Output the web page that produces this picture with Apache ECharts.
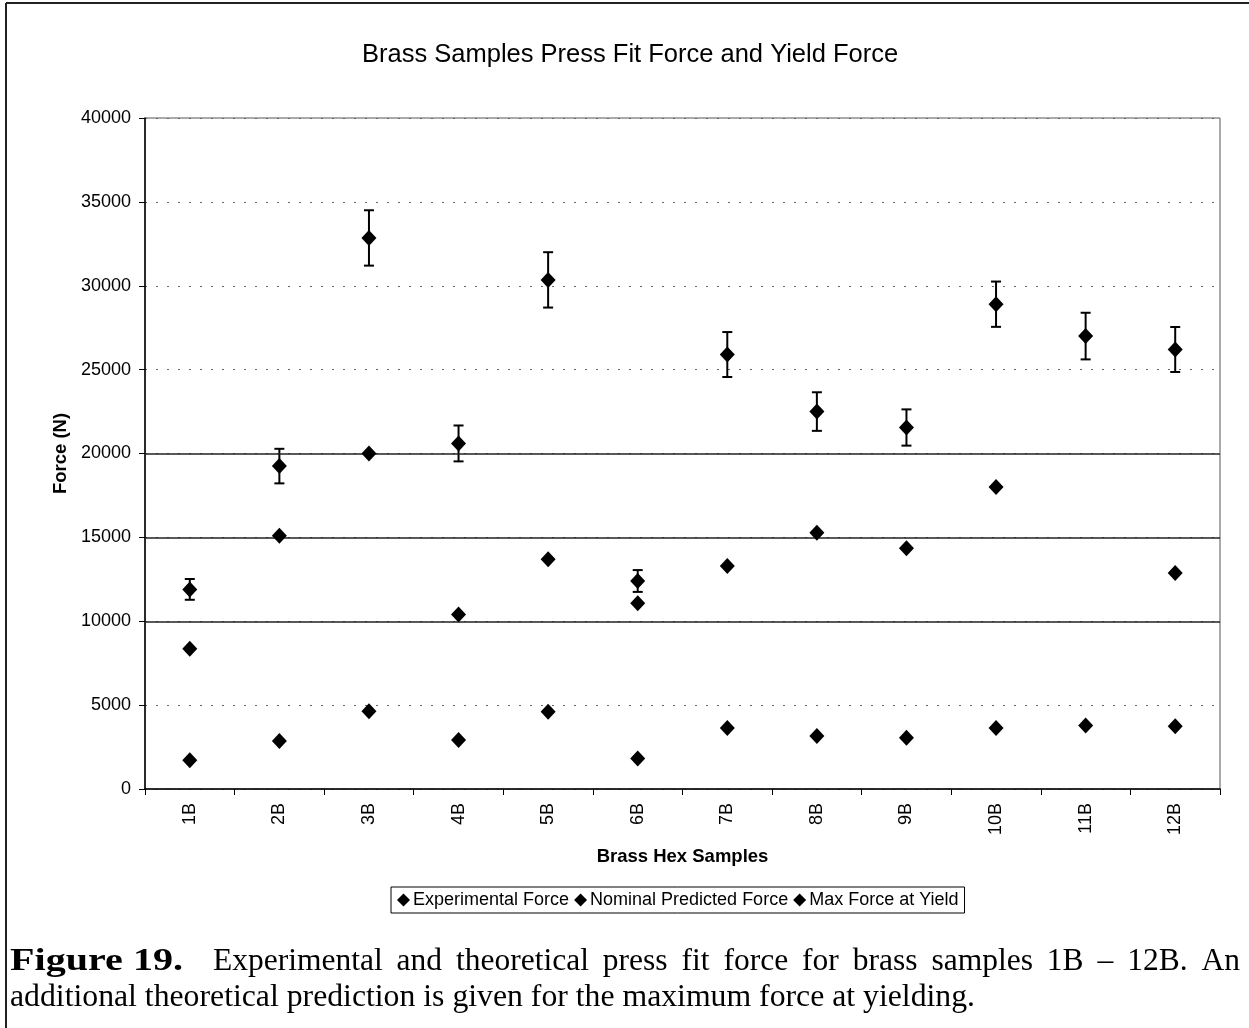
<!DOCTYPE html>
<html>
<head>
<meta charset="utf-8">
<script src="https://cdn.jsdelivr.net/npm/echarts@6/dist/echarts.min.js"></script>
<style>
html,body{margin:0;padding:0;background:#fff;}
#chart{width:1249px;height:1028px;}
</style>
</head>
<body>
<div id="chart"></div>
<script>
var categories = ['1B','2B','3B','4B','5B','6B','7B','8B','9B','10B','11B','12B'];
var experimental = [11900, 19250, 32850, 20600, 30350, 12400, 25900, 22500, 21550, 28900, 27000, 26200];
var expError = [620, 1030, 1650, 1070, 1650, 650, 1340, 1150, 1080, 1350, 1390, 1340];
var nominal = [8360, 15100, 20000, 10400, 13700, 11080, 13300, 15270, 14350, 18000, null, 12880];
var yieldForce = [1720, 2860, 4640, 2920, 4610, 1820, 3640, 3160, 3050, 3640, 3780, 3740];
var solidGrid = [10000, 15000, 20000];
var seriesNames = ['Experimental Force', 'Nominal Predicted Force', 'Max Force at Yield'];
var titleText = 'Brass Samples Press Fit Force and Yield Force';
var xAxisName = 'Brass Hex Samples';
var yAxisName = 'Force (N)';
var captionLabel = 'Figure 19.';
var captionLine1 = 'Experimental and theoretical press fit force for brass samples 1B \u2013 12B. An';
var captionLine2 = 'additional theoretical prediction is given for the maximum force at yielding.';

var chart = echarts.init(document.getElementById('chart'), null, {renderer: 'canvas'});

var cv = document.createElement('canvas').getContext('2d');
var capFont = '31.5px "Liberation Serif"';
var boldFont = 'bold 31.5px "Liberation Serif"';
cv.font = boldFont;
var labelScale = 173 / cv.measureText(captionLabel).width;
cv.font = capFont;
var line2Scale = 965 / cv.measureText(captionLine2).width;
var words = captionLine1.split(' ');
var startX = 213, endX = 1240;
var total = 0;
words.forEach(function (w) { total += cv.measureText(w).width; });
var gap = (endX - startX - total) / (words.length - 1);
var capGraphics = [];
var cx = startX;
words.forEach(function (w) {
  capGraphics.push({type: 'text', x: cx, y: 962,
    style: {text: w, font: capFont, fill: '#000', textVerticalAlign: 'middle', textAlign: 'left'}});
  cx += cv.measureText(w).width + gap;
});

var diamond = 'diamond';
var option = {
  backgroundColor: '#fff',
  animation: false,
  title: {
    text: titleText, left: 357, top: 37,
    padding: 5,
    textStyle: {fontFamily: 'Liberation Sans', fontSize: 25.5, fontWeight: 'normal', color: '#000'}
  },
  legend: {
    left: 391, top: 887,
    data: seriesNames,
    icon: diamond,
    itemWidth: 13, itemHeight: 13, itemGap: 5,
    padding: [4, 6, 4, 6],
    borderColor: '#000', borderWidth: 1,
    textStyle: {fontFamily: 'Liberation Sans', fontSize: 18, color: '#000', padding: [0, 0, 0, -2]}
  },
  grid: {left: 145, right: 29, top: 118, bottom: 239, show: true, borderColor: '#555', borderWidth: 1},
  xAxis: {
    type: 'category', data: categories,
    name: xAxisName, nameLocation: 'middle', nameGap: 58,
    nameTextStyle: {fontFamily: 'Liberation Sans', fontSize: 18.5, fontWeight: 'bold', color: '#000'},
    axisLine: {lineStyle: {color: '#000', width: 1.5}},
    axisTick: {show: true, length: 6, lineStyle: {color: '#000'}},
    axisLabel: {rotate: 90, margin: 14, fontFamily: 'Liberation Sans', fontSize: 18, color: '#000'},
    splitLine: {show: false}
  },
  yAxis: {
    type: 'value', min: 0, max: 40000, interval: 5000,
    name: yAxisName, nameLocation: 'middle', nameGap: 74,
    nameTextStyle: {fontFamily: 'Liberation Sans', fontSize: 18.5, fontWeight: 'bold', color: '#000'},
    axisLine: {show: true, lineStyle: {color: '#000', width: 1.5}},
    axisTick: {show: true, length: 6, lineStyle: {color: '#000'}},
    axisLabel: {margin: 14, fontFamily: 'Liberation Sans', fontSize: 18, color: '#000',
      formatter: function (v) { return String(v); }},
    splitLine: {show: true, lineStyle: {color: '#666', width: 1, type: [2, 9]}}
  },
  series: [
    {
      name: 'errorBars', type: 'custom', z: 2, silent: true,
      data: categories.map(function (c, i) { return [i, experimental[i] - expError[i], experimental[i] + expError[i]]; }),
      encode: {x: 0, y: [1, 2]},
      renderItem: function (params, api) {
        var lo = api.coord([api.value(0), api.value(1)]);
        var hi = api.coord([api.value(0), api.value(2)]);
        var hw = 5;
        var st = {stroke: '#000', lineWidth: 2};
        return {type: 'group', children: [
          {type: 'line', shape: {x1: lo[0], y1: lo[1], x2: hi[0], y2: hi[1]}, style: st},
          {type: 'line', shape: {x1: lo[0] - hw, y1: lo[1], x2: lo[0] + hw, y2: lo[1]}, style: st},
          {type: 'line', shape: {x1: hi[0] - hw, y1: hi[1], x2: hi[0] + hw, y2: hi[1]}, style: st}
        ]};
      },
      markLine: {
        silent: true, symbol: 'none', label: {show: false},
        lineStyle: {color: '#222', type: 'solid', width: 1.5},
        data: solidGrid.map(function (v) { return {yAxis: v}; })
      }
    },
    {name: seriesNames[0], type: 'scatter', z: 5, symbol: diamond, symbolSize: [15, 16],
      itemStyle: {color: '#000', opacity: 1}, data: experimental},
    {name: seriesNames[1], type: 'scatter', z: 5, symbol: diamond, symbolSize: [15, 16],
      itemStyle: {color: '#000', opacity: 1}, data: nominal},
    {name: seriesNames[2], type: 'scatter', z: 5, symbol: diamond, symbolSize: [15, 16],
      itemStyle: {color: '#000', opacity: 1}, data: yieldForce}
  ],
  graphic: [
    {type: 'line', shape: {x1: 6, y1: 3, x2: 1249, y2: 3}, style: {stroke: '#222', lineWidth: 2}},
    {type: 'line', shape: {x1: 6, y1: 3, x2: 6, y2: 1028}, style: {stroke: '#222', lineWidth: 2}},
    {type: 'text', x: 10, y: 962, scaleX: labelScale,
      style: {text: captionLabel, font: boldFont, fill: '#000', textVerticalAlign: 'middle'}},
    {type: 'text', x: 10, y: 998, scaleX: line2Scale,
      style: {text: captionLine2, font: capFont, fill: '#000', textVerticalAlign: 'middle'}}
  ].concat(capGraphics)
};
chart.setOption(option);
</script>
</body>
</html>
